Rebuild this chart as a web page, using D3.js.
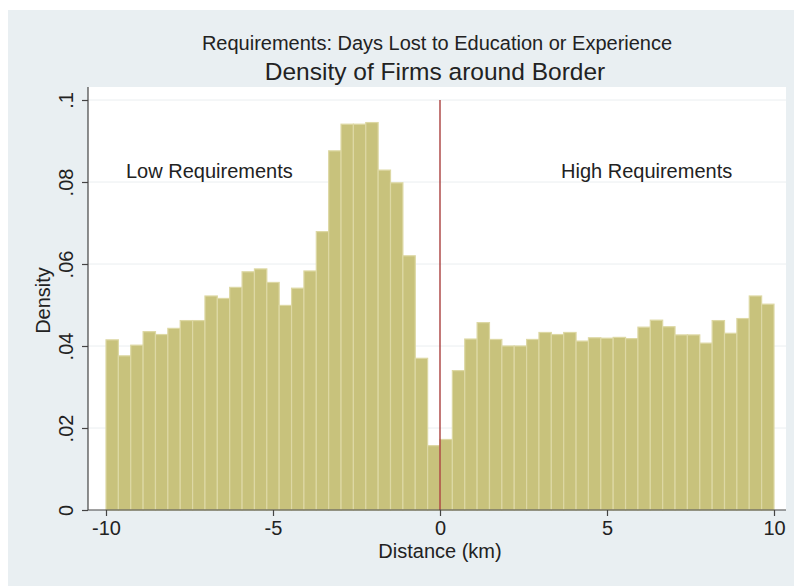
<!DOCTYPE html>
<html>
<head>
<meta charset="utf-8">
<script src="https://cdn.jsdelivr.net/npm/d3@7/dist/d3.min.js"></script>
<style>
  html, body { margin: 0; padding: 0; background: #ffffff; }
  svg { display: block; }
  text { font-family: "Liberation Sans", Arial, sans-serif; fill: #222; }
</style>
</head>
<body>
<svg id="chart" width="794" height="586"></svg>
<script>
// ---- Data ----
const leftDensity = [0.0415, 0.0376, 0.0402, 0.0435, 0.0428, 0.0443, 0.0462, 0.0462, 0.0522,
  0.0516, 0.0543, 0.0581, 0.0588, 0.0555, 0.0499, 0.0541, 0.0583, 0.0679, 0.0876,
  0.0941, 0.0941, 0.0945, 0.0829, 0.0798, 0.0620, 0.0370, 0.0157];
const rightDensity = [0.0172, 0.0340, 0.0417, 0.0457, 0.0416, 0.0400, 0.0400, 0.0416, 0.0433,
  0.0428, 0.0433, 0.0412, 0.0420, 0.0419, 0.0421, 0.0418, 0.0446, 0.0463, 0.0447,
  0.0427, 0.0427, 0.0407, 0.0462, 0.0431, 0.0467, 0.0522, 0.0502];
const xTicks = [-10, -5, 0, 5, 10];
const xTickLabels = ["-10", "-5", "0", "5", "10"];
const yTicks = [0, 0.02, 0.04, 0.06, 0.08, 0.1];
const yTickLabels = ["0", ".02", ".04", ".06", ".08", ".1"];
const subtitle = "Requirements: Days Lost to Education or Experience";
const title = "Density of Firms around Border";
const xTitle = "Distance (km)";
const yTitle = "Density";
const leftLabel = "Low Requirements";
const rightLabel = "High Requirements";

// build bins: each side 27 equal bins over 10 km
const binsPerSide = leftDensity.length;
const binW = 10 / binsPerSide;
const bins = [];
leftDensity.forEach((v, i) => bins.push({x0: -10 + i * binW, x1: -10 + (i + 1) * binW, v}));
rightDensity.forEach((v, i) => bins.push({x0: i * binW, x1: (i + 1) * binW, v}));

const svg = d3.select("#chart");
const FONT = "Liberation Sans, Arial, sans-serif";

// graph region background
svg.append("rect").attr("x", 8).attr("y", 10).attr("width", 786).attr("height", 576)
  .attr("fill", "#e9eff2");

// plot region
const plotL = 88, plotR = 786, plotT = 87, plotB = 510;
svg.append("rect").attr("x", plotL).attr("y", plotT).attr("width", plotR - plotL)
  .attr("height", plotB - plotT).attr("fill", "#ffffff");

const x = d3.scaleLinear().domain([-10, 10]).range([106, 774]);
const y = d3.scaleLinear().domain([0, 0.1]).range([plotB, 100]);

// gridlines
svg.append("g").selectAll("line").data(yTicks.slice(1)).join("line")
  .attr("x1", plotL).attr("x2", plotR)
  .attr("y1", d => y(d)).attr("y2", d => y(d))
  .attr("stroke", "#eaeef0").attr("stroke-width", 1);

// bars
svg.append("g").selectAll("rect").data(bins).join("rect")
  .attr("x", d => x(d.x0))
  .attr("width", d => x(d.x1) - x(d.x0))
  .attr("y", d => y(d.v))
  .attr("height", d => y(0) - y(d.v))
  .attr("fill", "#c8c27c")
  .attr("stroke", "#ddd8a4")
  .attr("stroke-width", 1.2);

// vertical line at 0
svg.append("line").attr("x1", x(0)).attr("x2", x(0)).attr("y1", y(0.1)).attr("y2", y(0))
  .attr("stroke", "#a3302f").attr("stroke-width", 1.3);

// x axis
const xAxis = d3.axisBottom(x).tickValues(xTicks).tickSize(6).tickPadding(5)
  .tickFormat((d, i) => xTickLabels[i]);
const gx = svg.append("g").attr("transform", `translate(0,${plotB})`).call(xAxis);
gx.select(".domain").attr("d", `M${plotL},0H${plotR}`).attr("stroke", "#444").attr("stroke-width", 1.2);
gx.selectAll(".tick line").attr("stroke", "#444").attr("stroke-width", 1.2);
gx.selectAll(".tick text").attr("font-size", 20).attr("fill", "#222")
  .attr("font-family", FONT);

// y axis
const yAxis = d3.axisLeft(y).tickValues(yTicks).tickSize(6).tickPadding(4)
  .tickFormat((d, i) => yTickLabels[i]);
const gy = svg.append("g").attr("transform", `translate(${plotL},0)`).call(yAxis);
gy.select(".domain").attr("d", `M0,${plotT}V${plotB}`).attr("stroke", "#444").attr("stroke-width", 1.2);
gy.selectAll(".tick line").attr("stroke", "#444").attr("stroke-width", 1.2);
gy.selectAll(".tick text")
  .attr("font-size", 20).attr("fill", "#222")
  .attr("font-family", FONT)
  .attr("x", null).attr("dy", null)
  .attr("text-anchor", "middle")
  .attr("transform", "translate(-22,0) rotate(-90)")
  .attr("dy", "0.35em");

// axis titles
svg.append("text").attr("x", x(0)).attr("y", 558).attr("text-anchor", "middle")
  .attr("font-size", 20).text(xTitle);
svg.append("text").attr("transform", `translate(50,${(plotT + plotB) / 2 + 2}) rotate(-90)`)
  .attr("text-anchor", "middle").attr("font-size", 20).text(yTitle);

// titles
svg.append("text").attr("x", 437).attr("y", 50).attr("text-anchor", "middle")
  .attr("font-size", 20).text(subtitle);
svg.append("text").attr("x", 435).attr("y", 80).attr("text-anchor", "middle")
  .attr("font-size", 24.5).text(title);

// annotations
svg.append("text").attr("x", 126).attr("y", 178).attr("font-size", 20).text(leftLabel);
svg.append("text").attr("x", 561).attr("y", 178).attr("font-size", 20).text(rightLabel);
</script>
</body>
</html>
